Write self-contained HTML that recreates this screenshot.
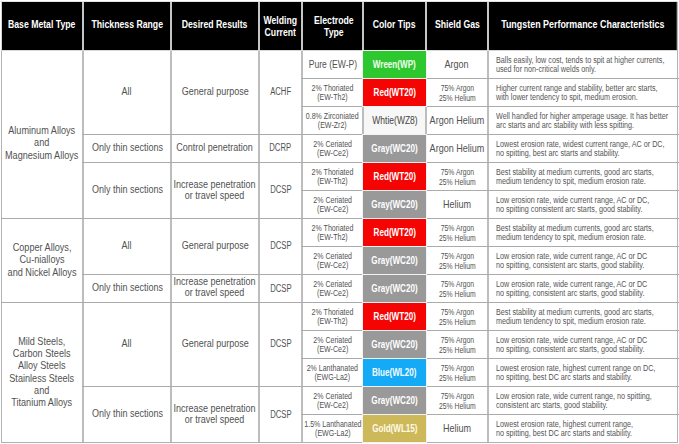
<!DOCTYPE html>
<html><head><meta charset="utf-8"><title>TIG Tungsten Electrode Selection Chart</title>
<style>
html,body{margin:0;padding:0;background:#fff;}
body{width:679px;height:444px;position:relative;overflow:hidden;font-family:"Liberation Sans",Arial,sans-serif;}
.b{position:absolute;}
.c{position:absolute;display:flex;align-items:center;justify-content:center;overflow:visible;}
.t{display:block;white-space:nowrap;text-align:center;}
.h{position:absolute;height:1px;background:#ababab;}
.v{position:absolute;width:2px;background:#bdbdbd;}
</style></head><body>

<div class="b" style="left:1px;top:1px;width:677px;height:1px;background:#e2e2e2"></div>
<div class="b" style="left:1px;top:1px;width:1px;height:50px;background:#d4d4d4"></div>
<div class="b" style="left:2px;top:2px;width:674px;height:48px;background:#000"></div>
<div class="b" style="left:676px;top:2px;width:1px;height:48px;background:#3a3a3a"></div>
<div class="b" style="left:2px;top:50px;width:675px;height:1px;background:#d8d8d8"></div>
<div class="b" style="left:82px;top:2px;width:2px;height:48px;background:#c6c6c6"></div>
<div class="b" style="left:170px;top:2px;width:2px;height:48px;background:#c6c6c6"></div>
<div class="b" style="left:258px;top:2px;width:2px;height:48px;background:#c6c6c6"></div>
<div class="b" style="left:301px;top:2px;width:2px;height:48px;background:#c6c6c6"></div>
<div class="b" style="left:362px;top:2px;width:2px;height:48px;background:#c6c6c6"></div>
<div class="b" style="left:425px;top:2px;width:2px;height:48px;background:#c6c6c6"></div>
<div class="b" style="left:487px;top:2px;width:2px;height:48px;background:#c6c6c6"></div>
<div class="c" style="left:2px;top:2px;width:80px;height:48px;"><span class="t" style="font-size:11px;font-weight:700;color:#fff;line-height:12.5px;transform:translate(0px,-1.6px) scaleX(0.79)">Base Metal Type</span></div>
<div class="c" style="left:84px;top:2px;width:86px;height:48px;"><span class="t" style="font-size:11px;font-weight:700;color:#fff;line-height:12.5px;transform:translate(0px,-1.6px) scaleX(0.79)">Thickness Range</span></div>
<div class="c" style="left:172px;top:2px;width:86px;height:48px;"><span class="t" style="font-size:11px;font-weight:700;color:#fff;line-height:12.5px;transform:translate(0px,-1.6px) scaleX(0.79)">Desired Results</span></div>
<div class="c" style="left:260px;top:2px;width:41px;height:48px;"><span class="t" style="font-size:11px;font-weight:700;color:#fff;line-height:12.5px;transform:translate(0px,0px) scaleX(0.79)">Welding<br>Current</span></div>
<div class="c" style="left:303px;top:2px;width:59px;height:48px;"><span class="t" style="font-size:11px;font-weight:700;color:#fff;line-height:12.5px;transform:translate(1.8px,0px) scaleX(0.79)">Electrode<br>Type</span></div>
<div class="c" style="left:364px;top:2px;width:61px;height:48px;"><span class="t" style="font-size:11px;font-weight:700;color:#fff;line-height:12.5px;transform:translate(0px,-1.6px) scaleX(0.79)">Color Tips</span></div>
<div class="c" style="left:427px;top:2px;width:60px;height:48px;"><span class="t" style="font-size:11px;font-weight:700;color:#fff;line-height:12.5px;transform:translate(0px,-1.6px) scaleX(0.79)">Shield Gas</span></div>
<div class="c" style="left:489px;top:2px;width:188px;height:48px;"><span class="t" style="font-size:11px;font-weight:700;color:#fff;line-height:12.5px;transform:translate(0px,-1.6px) scaleX(0.81)">Tungsten Performance Characteristics</span></div>
<div class="b" style="left:1px;top:51px;width:1px;height:392px;background:#b4b4b4"></div>
<div class="b" style="left:677px;top:2px;width:1px;height:441px;background:#b4b4b4"></div>
<div class="b" style="left:1px;top:442px;width:677px;height:1px;background:#b0b0b0"></div>
<div class="v" style="left:82px;top:51px;height:391px"></div>
<div class="v" style="left:170px;top:51px;height:391px"></div>
<div class="v" style="left:258px;top:51px;height:391px"></div>
<div class="v" style="left:301px;top:51px;height:391px"></div>
<div class="v" style="left:362px;top:51px;height:391px"></div>
<div class="v" style="left:425px;top:51px;height:391px"></div>
<div class="v" style="left:487px;top:51px;height:391px"></div>
<div class="h" style="left:1px;top:218px;width:83px"></div>
<div class="h" style="left:1px;top:302px;width:83px"></div>
<div class="h" style="left:82px;top:134px;width:90px"></div>
<div class="h" style="left:82px;top:162px;width:90px"></div>
<div class="h" style="left:82px;top:218px;width:90px"></div>
<div class="h" style="left:82px;top:274px;width:90px"></div>
<div class="h" style="left:82px;top:302px;width:90px"></div>
<div class="h" style="left:82px;top:386px;width:90px"></div>
<div class="h" style="left:170px;top:134px;width:90px"></div>
<div class="h" style="left:170px;top:162px;width:90px"></div>
<div class="h" style="left:170px;top:218px;width:90px"></div>
<div class="h" style="left:170px;top:274px;width:90px"></div>
<div class="h" style="left:170px;top:302px;width:90px"></div>
<div class="h" style="left:170px;top:386px;width:90px"></div>
<div class="h" style="left:258px;top:134px;width:45px"></div>
<div class="h" style="left:258px;top:162px;width:45px"></div>
<div class="h" style="left:258px;top:218px;width:45px"></div>
<div class="h" style="left:258px;top:274px;width:45px"></div>
<div class="h" style="left:258px;top:302px;width:45px"></div>
<div class="h" style="left:258px;top:386px;width:45px"></div>
<div class="h" style="left:301px;top:78px;width:63px"></div>
<div class="h" style="left:301px;top:106px;width:63px"></div>
<div class="h" style="left:301px;top:134px;width:63px"></div>
<div class="h" style="left:301px;top:162px;width:63px"></div>
<div class="h" style="left:301px;top:190px;width:63px"></div>
<div class="h" style="left:301px;top:218px;width:63px"></div>
<div class="h" style="left:301px;top:246px;width:63px"></div>
<div class="h" style="left:301px;top:274px;width:63px"></div>
<div class="h" style="left:301px;top:302px;width:63px"></div>
<div class="h" style="left:301px;top:330px;width:63px"></div>
<div class="h" style="left:301px;top:358px;width:63px"></div>
<div class="h" style="left:301px;top:386px;width:63px"></div>
<div class="h" style="left:301px;top:414px;width:63px"></div>
<div class="h" style="left:362px;top:78px;width:65px"></div>
<div class="h" style="left:362px;top:106px;width:65px"></div>
<div class="h" style="left:362px;top:134px;width:65px"></div>
<div class="h" style="left:362px;top:162px;width:65px"></div>
<div class="h" style="left:362px;top:190px;width:65px"></div>
<div class="h" style="left:362px;top:218px;width:65px"></div>
<div class="h" style="left:362px;top:246px;width:65px"></div>
<div class="h" style="left:362px;top:274px;width:65px"></div>
<div class="h" style="left:362px;top:302px;width:65px"></div>
<div class="h" style="left:362px;top:330px;width:65px"></div>
<div class="h" style="left:362px;top:358px;width:65px"></div>
<div class="h" style="left:362px;top:386px;width:65px"></div>
<div class="h" style="left:362px;top:414px;width:65px"></div>
<div class="h" style="left:425px;top:78px;width:64px"></div>
<div class="h" style="left:425px;top:106px;width:64px"></div>
<div class="h" style="left:425px;top:134px;width:64px"></div>
<div class="h" style="left:425px;top:162px;width:64px"></div>
<div class="h" style="left:425px;top:190px;width:64px"></div>
<div class="h" style="left:425px;top:218px;width:64px"></div>
<div class="h" style="left:425px;top:246px;width:64px"></div>
<div class="h" style="left:425px;top:274px;width:64px"></div>
<div class="h" style="left:425px;top:302px;width:64px"></div>
<div class="h" style="left:425px;top:330px;width:64px"></div>
<div class="h" style="left:425px;top:358px;width:64px"></div>
<div class="h" style="left:425px;top:386px;width:64px"></div>
<div class="h" style="left:425px;top:414px;width:64px"></div>
<div class="h" style="left:487px;top:78px;width:192px"></div>
<div class="h" style="left:487px;top:106px;width:192px"></div>
<div class="h" style="left:487px;top:134px;width:192px"></div>
<div class="h" style="left:487px;top:162px;width:192px"></div>
<div class="h" style="left:487px;top:190px;width:192px"></div>
<div class="h" style="left:487px;top:218px;width:192px"></div>
<div class="h" style="left:487px;top:246px;width:192px"></div>
<div class="h" style="left:487px;top:274px;width:192px"></div>
<div class="h" style="left:487px;top:302px;width:192px"></div>
<div class="h" style="left:487px;top:330px;width:192px"></div>
<div class="h" style="left:487px;top:358px;width:192px"></div>
<div class="h" style="left:487px;top:386px;width:192px"></div>
<div class="h" style="left:487px;top:414px;width:192px"></div>
<div class="c" style="left:2px;top:51px;width:80px;height:167px;"><span class="t" style="font-size:10.6px;font-weight:400;color:#525252;line-height:12.2px;text-align:center;transform:translateY(8.4px) scaleX(0.86);transform-origin:center center;">Aluminum Alloys<br>and<br>Magnesium Alloys</span></div>
<div class="c" style="left:2px;top:219px;width:80px;height:83px;"><span class="t" style="font-size:10.6px;font-weight:400;color:#525252;line-height:12.2px;text-align:center;transform:translateY(-0.6px) scaleX(0.86);transform-origin:center center;">Copper Alloys,<br>Cu-nialloys<br>and Nickel Alloys</span></div>
<div class="c" style="left:2px;top:303px;width:80px;height:139px;"><span class="t" style="font-size:10.6px;font-weight:400;color:#525252;line-height:12.2px;text-align:center;transform:translateY(-0.6px) scaleX(0.86);transform-origin:center center;">Mild Steels,<br>Carbon Steels<br>Alloy Steels<br>Stainless Steels<br>and<br>Titanium Alloys</span></div>
<div class="c" style="left:84px;top:51px;width:86px;height:83px;"><span class="t" style="font-size:10px;font-weight:400;color:#525252;line-height:12.5px;text-align:center;transform:translateY(-0.4px) scaleX(0.9);transform-origin:center center;">All</span></div>
<div class="c" style="left:84px;top:135px;width:86px;height:27px;"><span class="t" style="font-size:10px;font-weight:400;color:#525252;line-height:12.5px;text-align:center;transform:translateY(-0.4px) scaleX(0.9);transform-origin:center center;">Only thin sections</span></div>
<div class="c" style="left:84px;top:163px;width:86px;height:55px;"><span class="t" style="font-size:10px;font-weight:400;color:#525252;line-height:12.5px;text-align:center;transform:translateY(-0.4px) scaleX(0.9);transform-origin:center center;">Only thin sections</span></div>
<div class="c" style="left:84px;top:219px;width:86px;height:55px;"><span class="t" style="font-size:10px;font-weight:400;color:#525252;line-height:12.5px;text-align:center;transform:translateY(-0.4px) scaleX(0.9);transform-origin:center center;">All</span></div>
<div class="c" style="left:84px;top:275px;width:86px;height:27px;"><span class="t" style="font-size:10px;font-weight:400;color:#525252;line-height:12.5px;text-align:center;transform:translateY(-0.4px) scaleX(0.9);transform-origin:center center;">Only thin sections</span></div>
<div class="c" style="left:84px;top:303px;width:86px;height:83px;"><span class="t" style="font-size:10px;font-weight:400;color:#525252;line-height:12.5px;text-align:center;transform:translateY(-0.4px) scaleX(0.9);transform-origin:center center;">All</span></div>
<div class="c" style="left:84px;top:387px;width:86px;height:55px;"><span class="t" style="font-size:10px;font-weight:400;color:#525252;line-height:12.5px;text-align:center;transform:translateY(-0.4px) scaleX(0.9);transform-origin:center center;">Only thin sections</span></div>
<div class="c" style="left:172px;top:51px;width:86px;height:83px;"><span class="t" style="font-size:10px;font-weight:400;color:#525252;line-height:10.4px;text-align:center;transform:translateY(-0.4px) scaleX(0.9);transform-origin:center center;">General purpose</span></div>
<div class="c" style="left:172px;top:135px;width:86px;height:27px;"><span class="t" style="font-size:10px;font-weight:400;color:#525252;line-height:10.4px;text-align:center;transform:translateY(-0.4px) scaleX(0.9);transform-origin:center center;">Control penetration</span></div>
<div class="c" style="left:172px;top:163px;width:86px;height:55px;"><span class="t" style="font-size:10px;font-weight:400;color:#525252;line-height:10.4px;text-align:center;transform:translateY(-0.4px) scaleX(0.9);transform-origin:center center;">Increase penetration<br>or travel speed</span></div>
<div class="c" style="left:172px;top:219px;width:86px;height:55px;"><span class="t" style="font-size:10px;font-weight:400;color:#525252;line-height:10.4px;text-align:center;transform:translateY(-0.4px) scaleX(0.9);transform-origin:center center;">General purpose</span></div>
<div class="c" style="left:172px;top:275px;width:86px;height:27px;"><span class="t" style="font-size:10px;font-weight:400;color:#525252;line-height:10.4px;text-align:center;transform:translateY(-1.2px) scaleX(0.9);transform-origin:center center;">Increase penetration<br>or travel speed</span></div>
<div class="c" style="left:172px;top:303px;width:86px;height:83px;"><span class="t" style="font-size:10px;font-weight:400;color:#525252;line-height:10.4px;text-align:center;transform:translateY(-0.4px) scaleX(0.9);transform-origin:center center;">General purpose</span></div>
<div class="c" style="left:172px;top:387px;width:86px;height:55px;"><span class="t" style="font-size:10px;font-weight:400;color:#525252;line-height:10.4px;text-align:center;transform:translateY(-0.4px) scaleX(0.9);transform-origin:center center;">Increase penetration<br>or travel speed</span></div>
<div class="c" style="left:260px;top:51px;width:41px;height:83px;"><span class="t" style="font-size:10px;font-weight:400;color:#525252;line-height:12.5px;text-align:center;transform:translateY(-0.4px) scaleX(0.77);transform-origin:center center;">ACHF</span></div>
<div class="c" style="left:260px;top:135px;width:41px;height:27px;"><span class="t" style="font-size:10px;font-weight:400;color:#525252;line-height:12.5px;text-align:center;transform:translateY(-0.4px) scaleX(0.77);transform-origin:center center;">DCRP</span></div>
<div class="c" style="left:260px;top:163px;width:41px;height:55px;"><span class="t" style="font-size:10px;font-weight:400;color:#525252;line-height:12.5px;text-align:center;transform:translateY(-0.4px) scaleX(0.77);transform-origin:center center;">DCSP</span></div>
<div class="c" style="left:260px;top:219px;width:41px;height:55px;"><span class="t" style="font-size:10px;font-weight:400;color:#525252;line-height:12.5px;text-align:center;transform:translateY(-0.4px) scaleX(0.77);transform-origin:center center;">DCSP</span></div>
<div class="c" style="left:260px;top:275px;width:41px;height:27px;"><span class="t" style="font-size:10px;font-weight:400;color:#525252;line-height:12.5px;text-align:center;transform:translateY(0.7px) scaleX(0.77);transform-origin:center center;">DCSP</span></div>
<div class="c" style="left:260px;top:303px;width:41px;height:83px;"><span class="t" style="font-size:10px;font-weight:400;color:#525252;line-height:12.5px;text-align:center;transform:translateY(0.3px) scaleX(0.77);transform-origin:center center;">DCSP</span></div>
<div class="c" style="left:260px;top:387px;width:41px;height:55px;"><span class="t" style="font-size:10px;font-weight:400;color:#525252;line-height:12.5px;text-align:center;transform:translateY(1.2px) scaleX(0.77);transform-origin:center center;">DCSP</span></div>
<div class="c" style="left:303px;top:51px;width:59px;height:27px;"><span class="t" style="font-size:10.6px;font-weight:400;color:#525252;line-height:13.25px;text-align:center;transform:translateY(0px) scaleX(0.81);transform-origin:center center;">Pure (EW-P)</span></div>
<div class="c" style="left:303px;top:79px;width:59px;height:27px;"><span class="t" style="font-size:8.6px;font-weight:400;color:#525252;line-height:9px;text-align:center;transform:translateY(0.4px) scaleX(0.82);transform-origin:center center;">2% Thoriated<br>(EW-Th2)</span></div>
<div class="c" style="left:303px;top:107px;width:59px;height:27px;"><span class="t" style="font-size:8.6px;font-weight:400;color:#525252;line-height:9px;text-align:center;transform:translateY(0.4px) scaleX(0.82);transform-origin:center center;">0.8% Zirconiated<br>(EW-Zr2)</span></div>
<div class="c" style="left:303px;top:135px;width:59px;height:27px;"><span class="t" style="font-size:8.6px;font-weight:400;color:#525252;line-height:9px;text-align:center;transform:translateY(0.4px) scaleX(0.82);transform-origin:center center;">2% Ceriated<br>(EW-Ce2)</span></div>
<div class="c" style="left:303px;top:163px;width:59px;height:27px;"><span class="t" style="font-size:8.6px;font-weight:400;color:#525252;line-height:9px;text-align:center;transform:translateY(0.4px) scaleX(0.82);transform-origin:center center;">2% Thoriated<br>(EW-Th2)</span></div>
<div class="c" style="left:303px;top:191px;width:59px;height:27px;"><span class="t" style="font-size:8.6px;font-weight:400;color:#525252;line-height:9px;text-align:center;transform:translateY(0.4px) scaleX(0.82);transform-origin:center center;">2% Ceriated<br>(EW-Ce2)</span></div>
<div class="c" style="left:303px;top:219px;width:59px;height:27px;"><span class="t" style="font-size:8.6px;font-weight:400;color:#525252;line-height:9px;text-align:center;transform:translateY(0.4px) scaleX(0.82);transform-origin:center center;">2% Thoriated<br>(EW-Th2)</span></div>
<div class="c" style="left:303px;top:247px;width:59px;height:27px;"><span class="t" style="font-size:8.6px;font-weight:400;color:#525252;line-height:9px;text-align:center;transform:translateY(0.4px) scaleX(0.82);transform-origin:center center;">2% Ceriated<br>(EW-Ce2)</span></div>
<div class="c" style="left:303px;top:275px;width:59px;height:27px;"><span class="t" style="font-size:8.6px;font-weight:400;color:#525252;line-height:9px;text-align:center;transform:translateY(0.4px) scaleX(0.82);transform-origin:center center;">2% Ceriated<br>(EW-Ce2)</span></div>
<div class="c" style="left:303px;top:303px;width:59px;height:27px;"><span class="t" style="font-size:8.6px;font-weight:400;color:#525252;line-height:9px;text-align:center;transform:translateY(0.4px) scaleX(0.82);transform-origin:center center;">2% Thoriated<br>(EW-Th2)</span></div>
<div class="c" style="left:303px;top:331px;width:59px;height:27px;"><span class="t" style="font-size:8.6px;font-weight:400;color:#525252;line-height:9px;text-align:center;transform:translateY(0.4px) scaleX(0.82);transform-origin:center center;">2% Ceriated<br>(EW-Ce2)</span></div>
<div class="c" style="left:303px;top:359px;width:59px;height:27px;"><span class="t" style="font-size:8.6px;font-weight:400;color:#525252;line-height:9px;text-align:center;transform:translateY(0.4px) scaleX(0.82);transform-origin:center center;">2% Lanthanated<br>(EWG-La2)</span></div>
<div class="c" style="left:303px;top:387px;width:59px;height:27px;"><span class="t" style="font-size:8.6px;font-weight:400;color:#525252;line-height:9px;text-align:center;transform:translateY(0.4px) scaleX(0.82);transform-origin:center center;">2% Ceriated<br>(EW-Ce2)</span></div>
<div class="c" style="left:303px;top:415px;width:59px;height:27px;"><span class="t" style="font-size:8.6px;font-weight:400;color:#525252;line-height:9px;text-align:center;transform:translateY(0.4px) scaleX(0.82);transform-origin:center center;">1.5% Lanthanated<br>(EWG-La2)</span></div>
<div class="b" style="left:362px;top:50px;width:65px;height:29px;background:#f2f2f2"></div>
<div class="b" style="left:363px;top:51px;width:63px;height:27px;background:#2dc82d"></div>
<div class="c" style="left:364px;top:51px;width:61px;height:27px;"><span class="t" style="font-size:11px;font-weight:700;color:#f2fff2;line-height:13.75px;text-align:center;transform:translateY(0.4px) scaleX(0.735);transform-origin:center center;">Wreen(WP)</span></div>
<div class="b" style="left:362px;top:78px;width:65px;height:29px;background:#f2f2f2"></div>
<div class="b" style="left:363px;top:79px;width:63px;height:27px;background:#f50404"></div>
<div class="c" style="left:364px;top:79px;width:61px;height:27px;"><span class="t" style="font-size:11px;font-weight:700;color:#fff;line-height:13.75px;text-align:center;transform:translateY(0.4px) scaleX(0.735);transform-origin:center center;">Red(WT20)</span></div>
<div class="b" style="left:364px;top:107px;width:61px;height:27px;background:#f7f7f7"></div>
<div class="c" style="left:364px;top:107px;width:61px;height:27px;"><span class="t" style="font-size:10.5px;font-weight:400;color:#444;line-height:13.125px;text-align:center;transform:translateY(0.4px) scaleX(0.81);transform-origin:center center;">Whtie(WZ8)</span></div>
<div class="b" style="left:362px;top:134px;width:65px;height:29px;background:#f2f2f2"></div>
<div class="b" style="left:363px;top:135px;width:63px;height:27px;background:#999999"></div>
<div class="c" style="left:364px;top:135px;width:61px;height:27px;"><span class="t" style="font-size:11px;font-weight:700;color:#fff;line-height:13.75px;text-align:center;transform:translateY(0.4px) scaleX(0.735);transform-origin:center center;">Gray(WC20)</span></div>
<div class="b" style="left:362px;top:162px;width:65px;height:29px;background:#f2f2f2"></div>
<div class="b" style="left:363px;top:163px;width:63px;height:27px;background:#f50404"></div>
<div class="c" style="left:364px;top:163px;width:61px;height:27px;"><span class="t" style="font-size:11px;font-weight:700;color:#fff;line-height:13.75px;text-align:center;transform:translateY(0.4px) scaleX(0.735);transform-origin:center center;">Red(WT20)</span></div>
<div class="b" style="left:362px;top:190px;width:65px;height:29px;background:#f2f2f2"></div>
<div class="b" style="left:363px;top:191px;width:63px;height:27px;background:#999999"></div>
<div class="c" style="left:364px;top:191px;width:61px;height:27px;"><span class="t" style="font-size:11px;font-weight:700;color:#fff;line-height:13.75px;text-align:center;transform:translateY(0.4px) scaleX(0.735);transform-origin:center center;">Gray(WC20)</span></div>
<div class="b" style="left:362px;top:218px;width:65px;height:29px;background:#f2f2f2"></div>
<div class="b" style="left:363px;top:219px;width:63px;height:27px;background:#f50404"></div>
<div class="c" style="left:364px;top:219px;width:61px;height:27px;"><span class="t" style="font-size:11px;font-weight:700;color:#fff;line-height:13.75px;text-align:center;transform:translateY(0.4px) scaleX(0.735);transform-origin:center center;">Red(WT20)</span></div>
<div class="b" style="left:362px;top:246px;width:65px;height:29px;background:#f2f2f2"></div>
<div class="b" style="left:363px;top:247px;width:63px;height:27px;background:#999999"></div>
<div class="c" style="left:364px;top:247px;width:61px;height:27px;"><span class="t" style="font-size:11px;font-weight:700;color:#fff;line-height:13.75px;text-align:center;transform:translateY(0.4px) scaleX(0.735);transform-origin:center center;">Gray(WC20)</span></div>
<div class="b" style="left:362px;top:274px;width:65px;height:29px;background:#f2f2f2"></div>
<div class="b" style="left:363px;top:275px;width:63px;height:27px;background:#999999"></div>
<div class="c" style="left:364px;top:275px;width:61px;height:27px;"><span class="t" style="font-size:11px;font-weight:700;color:#fff;line-height:13.75px;text-align:center;transform:translateY(0.4px) scaleX(0.735);transform-origin:center center;">Gray(WC20)</span></div>
<div class="b" style="left:362px;top:302px;width:65px;height:29px;background:#f2f2f2"></div>
<div class="b" style="left:363px;top:303px;width:63px;height:27px;background:#f50404"></div>
<div class="c" style="left:364px;top:303px;width:61px;height:27px;"><span class="t" style="font-size:11px;font-weight:700;color:#fff;line-height:13.75px;text-align:center;transform:translateY(0.4px) scaleX(0.735);transform-origin:center center;">Red(WT20)</span></div>
<div class="b" style="left:362px;top:330px;width:65px;height:29px;background:#f2f2f2"></div>
<div class="b" style="left:363px;top:331px;width:63px;height:27px;background:#999999"></div>
<div class="c" style="left:364px;top:331px;width:61px;height:27px;"><span class="t" style="font-size:11px;font-weight:700;color:#fff;line-height:13.75px;text-align:center;transform:translateY(0.4px) scaleX(0.735);transform-origin:center center;">Gray(WC20)</span></div>
<div class="b" style="left:362px;top:358px;width:65px;height:29px;background:#f2f2f2"></div>
<div class="b" style="left:363px;top:359px;width:63px;height:27px;background:#14aaf5"></div>
<div class="c" style="left:364px;top:359px;width:61px;height:27px;"><span class="t" style="font-size:11px;font-weight:700;color:#f4fbff;line-height:13.75px;text-align:center;transform:translateY(0.4px) scaleX(0.735);transform-origin:center center;">Blue(WL20)</span></div>
<div class="b" style="left:362px;top:386px;width:65px;height:29px;background:#f2f2f2"></div>
<div class="b" style="left:363px;top:387px;width:63px;height:27px;background:#999999"></div>
<div class="c" style="left:364px;top:387px;width:61px;height:27px;"><span class="t" style="font-size:11px;font-weight:700;color:#fff;line-height:13.75px;text-align:center;transform:translateY(0.4px) scaleX(0.735);transform-origin:center center;">Gray(WC20)</span></div>
<div class="b" style="left:362px;top:414px;width:65px;height:29px;background:#f2f2f2"></div>
<div class="b" style="left:363px;top:415px;width:63px;height:27px;background:#cdb95a"></div>
<div class="c" style="left:364px;top:415px;width:61px;height:27px;"><span class="t" style="font-size:11px;font-weight:700;color:#fffbe6;line-height:13.75px;text-align:center;transform:translateY(0.4px) scaleX(0.735);transform-origin:center center;">Gold(WL15)</span></div>
<div class="c" style="left:427px;top:51px;width:60px;height:27px;"><span class="t" style="font-size:10.9px;font-weight:400;color:#525252;line-height:13.625px;text-align:center;transform:translateY(0px) scaleX(0.83);transform-origin:center center;">Argon</span></div>
<div class="c" style="left:427px;top:79px;width:60px;height:27px;"><span class="t" style="font-size:8.7px;font-weight:400;color:#525252;line-height:9.3px;text-align:center;transform:translateY(1.0px) scaleX(0.785);transform-origin:center center;">75% Argon<br>25% Helium</span></div>
<div class="c" style="left:427px;top:107px;width:60px;height:27px;"><span class="t" style="font-size:10.9px;font-weight:400;color:#525252;line-height:13.625px;text-align:center;transform:translateY(0px) scaleX(0.83);transform-origin:center center;">Argon Helium</span></div>
<div class="c" style="left:427px;top:135px;width:60px;height:27px;"><span class="t" style="font-size:10.9px;font-weight:400;color:#525252;line-height:13.625px;text-align:center;transform:translateY(0px) scaleX(0.83);transform-origin:center center;">Argon Helium</span></div>
<div class="c" style="left:427px;top:163px;width:60px;height:27px;"><span class="t" style="font-size:8.7px;font-weight:400;color:#525252;line-height:9.3px;text-align:center;transform:translateY(1.0px) scaleX(0.785);transform-origin:center center;">75% Argon<br>25% Helium</span></div>
<div class="c" style="left:427px;top:191px;width:60px;height:27px;"><span class="t" style="font-size:10.9px;font-weight:400;color:#525252;line-height:13.625px;text-align:center;transform:translateY(0px) scaleX(0.83);transform-origin:center center;">Helium</span></div>
<div class="c" style="left:427px;top:219px;width:60px;height:27px;"><span class="t" style="font-size:8.7px;font-weight:400;color:#525252;line-height:9.3px;text-align:center;transform:translateY(1.0px) scaleX(0.785);transform-origin:center center;">75% Argon<br>25% Helium</span></div>
<div class="c" style="left:427px;top:247px;width:60px;height:27px;"><span class="t" style="font-size:8.7px;font-weight:400;color:#525252;line-height:9.3px;text-align:center;transform:translateY(1.0px) scaleX(0.785);transform-origin:center center;">75% Argon<br>25% Helium</span></div>
<div class="c" style="left:427px;top:275px;width:60px;height:27px;"><span class="t" style="font-size:8.7px;font-weight:400;color:#525252;line-height:9.3px;text-align:center;transform:translateY(1.0px) scaleX(0.785);transform-origin:center center;">75% Argon<br>25% Helium</span></div>
<div class="c" style="left:427px;top:303px;width:60px;height:27px;"><span class="t" style="font-size:8.7px;font-weight:400;color:#525252;line-height:9.3px;text-align:center;transform:translateY(1.0px) scaleX(0.785);transform-origin:center center;">75% Argon<br>25% Helium</span></div>
<div class="c" style="left:427px;top:331px;width:60px;height:27px;"><span class="t" style="font-size:8.7px;font-weight:400;color:#525252;line-height:9.3px;text-align:center;transform:translateY(1.0px) scaleX(0.785);transform-origin:center center;">75% Argon<br>25% Helium</span></div>
<div class="c" style="left:427px;top:359px;width:60px;height:27px;"><span class="t" style="font-size:8.7px;font-weight:400;color:#525252;line-height:9.3px;text-align:center;transform:translateY(1.0px) scaleX(0.785);transform-origin:center center;">75% Argon<br>25% Helium</span></div>
<div class="c" style="left:427px;top:387px;width:60px;height:27px;"><span class="t" style="font-size:8.7px;font-weight:400;color:#525252;line-height:9.3px;text-align:center;transform:translateY(1.0px) scaleX(0.785);transform-origin:center center;">75% Argon<br>25% Helium</span></div>
<div class="c" style="left:427px;top:415px;width:60px;height:27px;"><span class="t" style="font-size:10.9px;font-weight:400;color:#525252;line-height:13.625px;text-align:center;transform:translateY(0px) scaleX(0.83);transform-origin:center center;">Helium</span></div>
<div class="c" style="left:489px;top:51px;width:188px;height:27px;justify-content:flex-start;padding-left:7px;box-sizing:border-box;"><span class="t" style="font-size:8.4px;font-weight:400;color:#555;line-height:9.0px;text-align:left;transform:translateY(0px) scaleX(0.86);transform-origin:left center;">Balls easily, low cost, tends to spit at higher currents,<br>used for non-critical welds only.</span></div>
<div class="c" style="left:489px;top:79px;width:188px;height:27px;justify-content:flex-start;padding-left:7px;box-sizing:border-box;"><span class="t" style="font-size:8.4px;font-weight:400;color:#555;line-height:9.0px;text-align:left;transform:translateY(0px) scaleX(0.86);transform-origin:left center;">Higher current range and stability, better arc starts,<br>with lower tendency to spit, medium erosion.</span></div>
<div class="c" style="left:489px;top:107px;width:188px;height:27px;justify-content:flex-start;padding-left:7px;box-sizing:border-box;"><span class="t" style="font-size:8.4px;font-weight:400;color:#555;line-height:9.0px;text-align:left;transform:translateY(0px) scaleX(0.86);transform-origin:left center;">Well handled for higher amperage usage. It has better<br>arc starts and arc stability with less spitting.</span></div>
<div class="c" style="left:489px;top:135px;width:188px;height:27px;justify-content:flex-start;padding-left:7px;box-sizing:border-box;"><span class="t" style="font-size:8.4px;font-weight:400;color:#555;line-height:9.0px;text-align:left;transform:translateY(0px) scaleX(0.86);transform-origin:left center;">Lowest erosion rate, widest current range, AC or DC,<br>no spitting, best arc starts and stability.</span></div>
<div class="c" style="left:489px;top:163px;width:188px;height:27px;justify-content:flex-start;padding-left:7px;box-sizing:border-box;"><span class="t" style="font-size:8.4px;font-weight:400;color:#555;line-height:9.0px;text-align:left;transform:translateY(0px) scaleX(0.86);transform-origin:left center;">Best stability at medium currents, good arc starts,<br>medium tendency to spit, medium erosion rate.</span></div>
<div class="c" style="left:489px;top:191px;width:188px;height:27px;justify-content:flex-start;padding-left:7px;box-sizing:border-box;"><span class="t" style="font-size:8.4px;font-weight:400;color:#555;line-height:9.0px;text-align:left;transform:translateY(0px) scaleX(0.86);transform-origin:left center;">Low erosion rate, wide current range, AC or DC,<br>no spitting consistent arc starts, good stability.</span></div>
<div class="c" style="left:489px;top:219px;width:188px;height:27px;justify-content:flex-start;padding-left:7px;box-sizing:border-box;"><span class="t" style="font-size:8.4px;font-weight:400;color:#555;line-height:9.0px;text-align:left;transform:translateY(0px) scaleX(0.86);transform-origin:left center;">Best stability at medium currents, good arc starts,<br>medium tendency to spit, medium erosion rate.</span></div>
<div class="c" style="left:489px;top:247px;width:188px;height:27px;justify-content:flex-start;padding-left:7px;box-sizing:border-box;"><span class="t" style="font-size:8.4px;font-weight:400;color:#555;line-height:9.0px;text-align:left;transform:translateY(0px) scaleX(0.86);transform-origin:left center;">Low erosion rate, wide current range, AC or DC<br>no spitting, consistent arc starts, good stability.</span></div>
<div class="c" style="left:489px;top:275px;width:188px;height:27px;justify-content:flex-start;padding-left:7px;box-sizing:border-box;"><span class="t" style="font-size:8.4px;font-weight:400;color:#555;line-height:9.0px;text-align:left;transform:translateY(0px) scaleX(0.86);transform-origin:left center;">Low erosion rate, wide current range, AC or DC<br>no spitting, consistent arc starts, good stability.</span></div>
<div class="c" style="left:489px;top:303px;width:188px;height:27px;justify-content:flex-start;padding-left:7px;box-sizing:border-box;"><span class="t" style="font-size:8.4px;font-weight:400;color:#555;line-height:9.0px;text-align:left;transform:translateY(0px) scaleX(0.86);transform-origin:left center;">Best stability at medium currents, good arc starts,<br>medium tendency to spit, medium erosion rate.</span></div>
<div class="c" style="left:489px;top:331px;width:188px;height:27px;justify-content:flex-start;padding-left:7px;box-sizing:border-box;"><span class="t" style="font-size:8.4px;font-weight:400;color:#555;line-height:9.0px;text-align:left;transform:translateY(0px) scaleX(0.86);transform-origin:left center;">Low erosion rate, wide current range, AC or DC<br>no spitting, consistent arc starts, good stability.</span></div>
<div class="c" style="left:489px;top:359px;width:188px;height:27px;justify-content:flex-start;padding-left:7px;box-sizing:border-box;"><span class="t" style="font-size:8.4px;font-weight:400;color:#555;line-height:9.0px;text-align:left;transform:translateY(0px) scaleX(0.86);transform-origin:left center;">Lowest erosion rate, highest current range on DC,<br>no spitting, best DC arc starts and stability.</span></div>
<div class="c" style="left:489px;top:387px;width:188px;height:27px;justify-content:flex-start;padding-left:7px;box-sizing:border-box;"><span class="t" style="font-size:8.4px;font-weight:400;color:#555;line-height:9.0px;text-align:left;transform:translateY(0px) scaleX(0.86);transform-origin:left center;">Low erosion rate, wide current range, no spitting,<br>consistent arc starts, good stability.</span></div>
<div class="c" style="left:489px;top:415px;width:188px;height:27px;justify-content:flex-start;padding-left:7px;box-sizing:border-box;"><span class="t" style="font-size:8.4px;font-weight:400;color:#555;line-height:9.0px;text-align:left;transform:translateY(0px) scaleX(0.86);transform-origin:left center;">Lowest erosion rate, highest current range,<br>no spitting, best DC arc starts and stability.</span></div>
</body></html>
